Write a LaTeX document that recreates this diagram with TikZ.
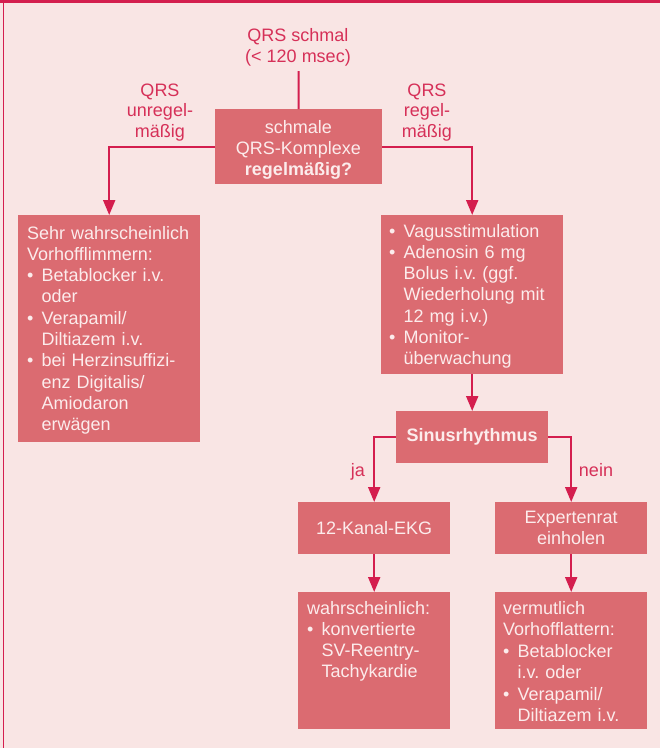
\documentclass[tikz,border=0pt]{standalone}
\usepackage{fontspec}
\setmainfont{Liberation Sans}
\usetikzlibrary{arrows.meta}
\definecolor{bg}{RGB}{249,229,228}
\definecolor{boxfill}{RGB}{219,107,113}
\definecolor{linec}{RGB}{212,30,78}
\definecolor{labc}{RGB}{214,48,88}
\definecolor{boxtext}{RGB}{252,236,236}
\newcommand\bl{\makebox[14.5pt][l]{\textbullet}}
\newcommand\ind{\hspace*{14.5pt}}
\frenchspacing
\begin{document}
\begin{tikzpicture}[x=1pt,y=-1pt,
  box/.style={fill=boxfill, draw=none, inner sep=0pt, anchor=north west, text=boxtext,
    font=\fontsize{18}{21}\selectfont, align=center},
  btext/.style={text=boxtext, font=\fontsize{18}{21.3}\selectfont, align=left,
    inner sep=0pt, anchor=base west, text width=220pt},
  ctext/.style={text=boxtext, font=\fontsize{18}{21}\selectfont, align=center,
    inner sep=0pt, anchor=base},
  lab/.style={text=labc, font=\fontsize{18}{20.5}\selectfont, align=center,
    inner sep=0pt, anchor=base},
  conn/.style={draw=linec, line width=2pt},
  arr/.style={conn, -{Triangle[length=15pt,width=12pt]}},
]
\useasboundingbox (0,0) rectangle (660,748);
\fill[bg] (0,0) rectangle (660,748);
\draw[linec, line width=2.5pt] (0,1.25) -- (660,1.25);
\draw[linec, line width=1.5pt] (3.5,0) -- (3.5,748);

% boxes
\node[box, minimum width=167pt, minimum height=75pt] (q) at (215,109) {};
\node[box, minimum width=182pt, minimum height=227pt] (b2) at (18,215) {};
\node[box, minimum width=182pt, minimum height=159pt] (b3) at (381,215) {};
\node[box, minimum width=152pt, minimum height=52pt] (sr) at (396,411) {\textbf{Sinusrhythmus}};
\node[box, minimum width=152pt, minimum height=52pt] (k12) at (298,502) {12-Kanal-EKG};
\node[box, minimum width=152pt, minimum height=52pt] (ex) at (495,502) {Expertenrat\\einholen};
\node[box, minimum width=152pt, minimum height=137pt] (ll) at (298,592) {};
\node[box, minimum width=152pt, minimum height=137pt] (lr) at (495,592) {};

% box texts (base anchor = last line for centred nodes)
\node[ctext] (qt) at (298.5,175) {schmale\\QRS-Komplexe\\\textbf{regelmäßig?}};
\node[btext] (b2t) at (27,239) {Sehr wahrscheinlich\\
Vorhofflimmern:\\
\bl Betablocker i.v.\\
\ind oder\\
\bl Verapamil/\\
\ind Diltiazem i.v.\\
\bl bei Herzinsuffizi-\\
\ind enz Digitalis/\\
\ind Amiodaron\\
\ind erwägen};
\node[btext] (b3t) at (389,237) {\bl Vagusstimulation\\
\bl Adenosin 6 mg\\
\ind Bolus i.v. (ggf.\\
\ind Wiederholung mit\\
\ind 12 mg i.v.)\\
\bl Monitor-\\
\ind überwachung};
\node[btext] (llt) at (307,614) {wahrscheinlich:\\
\bl konvertierte\\
\ind SV-Reentry-\\
\ind Tachykardie};
\node[btext, font=\fontsize{18}{21.5}\selectfont] (lrt) at (503,614) {vermutlich\\
Vorhofflattern:\\
\bl Betablocker\\
\ind i.v. oder\\
\bl Verapamil/\\
\ind Diltiazem i.v.};

% labels
\node[lab] (top) at (298,62) {QRS schmal\\(< 120 msec)};
\node[lab] (lu) at (160,137) {QRS\\unregel-\\mäßig};
\node[lab] (lr2) at (427,137) {QRS\\regel-\\mäßig};
\node[lab] (ja) at (358,476) {ja};
\node[lab] (nein) at (596,476) {nein};

% connectors
\coordinate (qtop) at (298.5,71);
\draw[conn] (qtop) -- (q.north);
\draw[arr] (q.west) -| (b2.north);
\draw[arr] (q.east) -| (b3.north);
\draw[arr] (b3.south) -- (sr.north);
\draw[arr] (sr.west) -| (k12.north);
\draw[arr] (sr.east) -| (ex.north);
\draw[arr] (k12.south) -- (ll.north);
\draw[arr] (ex.south) -- (lr.north);
\end{tikzpicture}
\end{document}
